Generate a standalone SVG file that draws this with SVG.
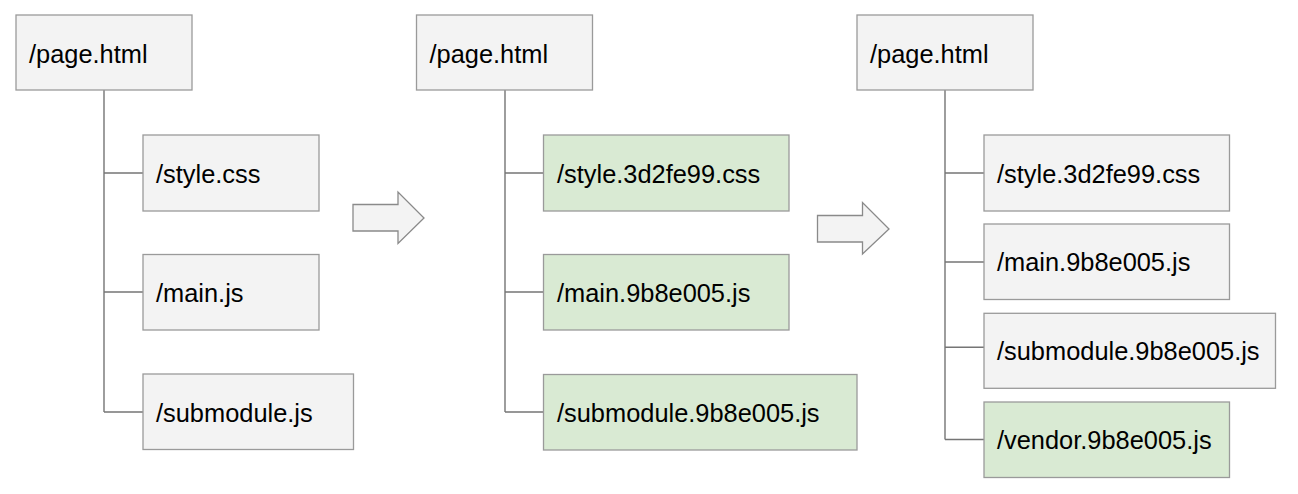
<svg xmlns="http://www.w3.org/2000/svg" width="1298" height="494" viewBox="0 0 1298 494">
<style>
.box{fill:#f3f3f3;stroke:#9a9a9a;stroke-width:1.3}
.new{fill:#d9ead3;stroke:#9a9a9a;stroke-width:1.3}
.lbl{font-family:"Liberation Sans",Arial,sans-serif;font-size:25.4px;fill:#000}
.conn{fill:none;stroke:#757575;stroke-width:1.4}
.arr{fill:#f3f3f3;stroke:#8a8a8a;stroke-width:1.3;stroke-linejoin:miter}
</style>
<rect width="1298" height="494" fill="#ffffff"/>
<g id="connectors">
<path class="conn" d="M104 90V412M104 173H143M104 292H143M104 412H143"/>
<path class="conn" d="M505 90V412M505 173H543M505 292H543M505 412H543"/>
<path class="conn" d="M945 90V439.5M945 173H984M945 262H984M945 347.3H984M945 439.5H984"/>
</g>
<g id="arrow1"><path class="arr" d="M353 204.5H398V192L424 218L398 243.5V231H353Z"/></g>
<g id="arrow2"><path class="arr" d="M817.5 215.5H862.5V202.5L889 229L862.5 254V242H817.5Z"/></g>
<g id="c1-page"><rect class="box" x="16" y="15" width="176" height="75"/><text class="lbl" x="29" y="62.5">/page.html</text></g>
<g id="c1-style"><rect class="box" x="143" y="135" width="176" height="76"/><text class="lbl" x="156" y="182.5">/style.css</text></g>
<g id="c1-main"><rect class="box" x="143" y="254.5" width="176" height="75.5"/><text class="lbl" x="156" y="301.5">/main.js</text></g>
<g id="c1-sub"><rect class="box" x="143" y="374" width="210.5" height="75.5"/><text class="lbl" x="156" y="421.5">/submodule.js</text></g>
<g id="c2-page"><rect class="box" x="416.5" y="15" width="176" height="75"/><text class="lbl" x="429.5" y="62.5">/page.html</text></g>
<g id="c2-style"><rect class="new" x="543.5" y="135" width="245.5" height="76"/><text class="lbl" x="557" y="182.5">/style.3d2fe99.css</text></g>
<g id="c2-main"><rect class="new" x="543.5" y="254.5" width="245.5" height="75.5"/><text class="lbl" x="557" y="301.5">/main.9b8e005.js</text></g>
<g id="c2-sub"><rect class="new" x="543.5" y="374.5" width="313.5" height="75.5"/><text class="lbl" x="557" y="421.5">/submodule.9b8e005.js</text></g>
<g id="c3-page"><rect class="box" x="857" y="15" width="176" height="75"/><text class="lbl" x="870" y="62.5">/page.html</text></g>
<g id="c3-style"><rect class="box" x="984" y="135" width="245.5" height="76"/><text class="lbl" x="997" y="182.5">/style.3d2fe99.css</text></g>
<g id="c3-main"><rect class="box" x="984" y="224" width="245.5" height="75.5"/><text class="lbl" x="997" y="271">/main.9b8e005.js</text></g>
<g id="c3-sub"><rect class="box" x="984" y="313.3" width="291.5" height="75"/><text class="lbl" x="997" y="360.3">/submodule.9b8e005.js</text></g>
<g id="c3-vendor"><rect class="new" x="984" y="402" width="245.5" height="75.5"/><text class="lbl" x="997" y="449">/vendor.9b8e005.js</text></g>
</svg>
